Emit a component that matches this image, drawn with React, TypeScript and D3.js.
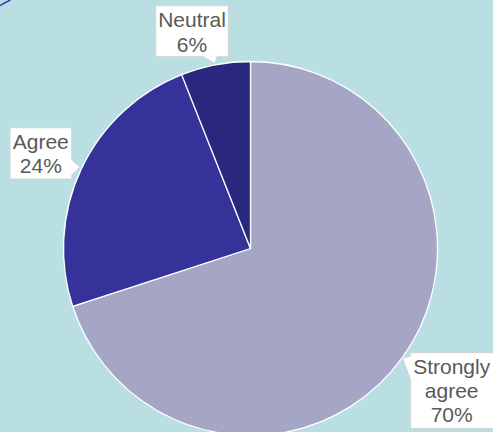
import React from "react";
import * as d3 from "d3";

const categories = ["Strongly agree", "Agree", "Neutral"];
const values = [70, 24, 6];
const labelLines = [["Strongly", "agree", "70%"], ["Agree", "24%"], ["Neutral", "6%"]];
const colors = ["#a5a5c5", "#35339a", "#29287e"];

type Callout = {
  x: number; y: number; w: number; h: number;
  side: "bottom" | "right" | "left";
  b0: number; b1: number; tx: number; ty: number;
  cx: number; firstBaseline: number;
};

const callouts: Callout[] = [
  { x: 410.7, y: 352.7, w: 90, h: 75.6, side: "left", b0: 356, b1: 380, tx: 402.5, ty: 358.3, cx: 451.7, firstBaseline: 373.5 },
  { x: 10, y: 127.7, w: 61.7, h: 51.3, side: "right", b0: 160, b1: 175, tx: 80, ty: 167, cx: 40.8, firstBaseline: 148.5 },
  { x: 155.7, y: 5.7, w: 72.6, h: 51, side: "bottom", b0: 203, b1: 217, tx: 215, ty: 63.5, cx: 192, firstBaseline: 27.3 },
];

function calloutPath(c: Callout) {
  const { x, y, w, h } = c;
  const r = x + w, b = y + h;
  if (c.side === "bottom") {
    return `M${x},${y}H${r}V${b}H${c.b1}L${c.tx},${c.ty}L${c.b0},${b}H${x}Z`;
  }
  if (c.side === "right") {
    return `M${x},${y}H${r}V${c.b0}L${c.tx},${c.ty}L${r},${c.b1}V${b}H${x}Z`;
  }
  return `M${x},${y}H${r}V${b}H${x}V${c.b1}L${c.tx},${c.ty}L${x},${c.b0}Z`;
}

export default function App() {
  const W = 493, H = 432;
  const cx = 250.5, cy = 248.5, R = 187;
  const pie = d3.pie<number>().sort(null).value((d) => d);
  const arcs = pie(values);
  const arc = d3.arc<d3.PieArcDatum<number>>().innerRadius(0).outerRadius(R);
  const lineH = 24.3;

  return (
    <svg width={W} height={H} style={{ position: "absolute", left: 0, top: 0, display: "block" }}
      fontFamily="'Liberation Sans', Arial, sans-serif">
      <rect x={0} y={0} width={W} height={H} fill="#b9dfe2" />
      <path d="M0,5.5 Q5,2.5 10.5,0" fill="none" stroke="#3b3ab2" strokeWidth={1.5} />
      <g transform={`translate(${cx},${cy})`}>
        {arcs.map((a, i) => (
          <path key={categories[i]} d={arc(a) || ""} fill={colors[i]} stroke="#ffffff" strokeWidth={1.3} strokeLinejoin="round" />
        ))}
      </g>
      {callouts.map((c, i) => (
        <g key={"c" + i}>
          <path d={calloutPath(c)} fill="#ffffff" stroke="#d4d4d4" strokeWidth={1} />
          {labelLines[i].map((t, j) => (
            <text key={j} x={c.cx} y={c.firstBaseline + j * lineH} textAnchor="middle" fontSize={21} fill="#595959">
              {t}
            </text>
          ))}
        </g>
      ))}
    </svg>
  );
}
